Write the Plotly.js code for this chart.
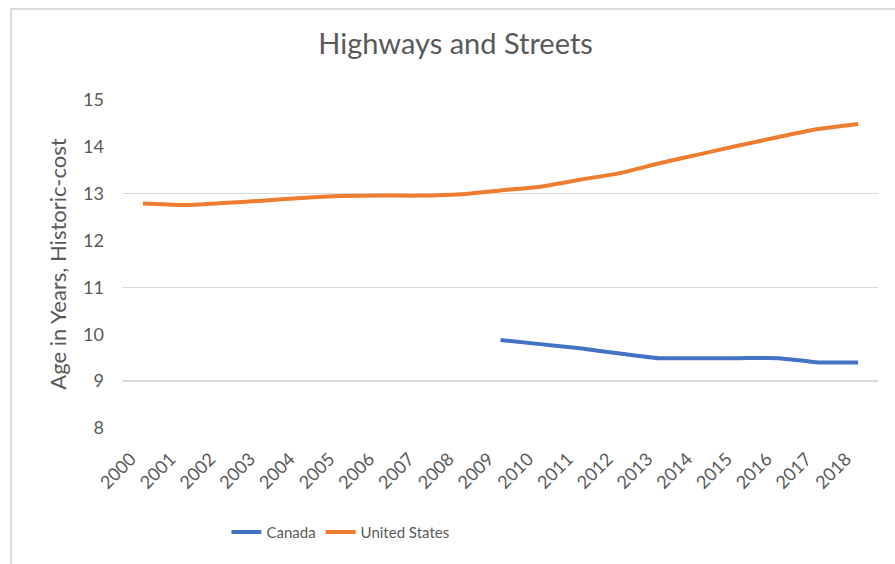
<!DOCTYPE html>
<html>
<head>
<meta charset="utf-8">
<script src="https://cdn.plot.ly/plotly-3.0.1.min.js"></script>
<style>
  html, body { margin: 0; padding: 0; background: #ffffff; overflow: hidden; }
  #chart { width: 895px; height: 564px; position: absolute; left: 0; top: 0; }
  #frame { position: absolute; left: 10px; top: 8px; width: 1000px; height: 700px;
           border-left: 2px solid #d9d9d9; border-top: 2px solid #d9d9d9; pointer-events: none; }
</style>
</head>
<body>
<div id="chart"></div>
<div id="frame"></div>
<script>
const years = ["2000","2001","2002","2003","2004","2005","2006","2007","2008","2009",
               "2010","2011","2012","2013","2014","2015","2016","2017","2018"];
const canadaValues = [null,null,null,null,null,null,null,null,null,
                      9.88,9.79,9.70,9.59,9.49,9.49,9.49,9.49,9.40,9.40];
const usValues = [12.79,12.76,12.80,12.85,12.91,12.95,12.96,12.96,12.99,13.07,
                  13.15,13.30,13.44,13.65,13.84,14.03,14.21,14.38,14.49];
const yTickValues = [8,9,10,11,12,13,14,15];
const gridValues = [9,11,13,15];

const textColor = "#595959";
const fontFamily = "Lato, 'Open Sans', sans-serif";

const traces = [
  { x: years, y: canadaValues, name: "Canada", type: "scatter", mode: "lines",
    line: { color: "#4472C4", width: 4, shape: "spline", smoothing: 0.6 }, connectgaps: false },
  { x: years, y: usValues, name: "United States", type: "scatter", mode: "lines",
    line: { color: "#ED7D31", width: 4, shape: "spline", smoothing: 0.6 } },
  { x: years, y: usValues, yaxis: "y2", type: "scatter", mode: "none",
    showlegend: false, hoverinfo: "skip" }
];

const layout = {
  width: 895, height: 564,
  paper_bgcolor: "rgba(0,0,0,0)", plot_bgcolor: "rgba(0,0,0,0)",
  margin: { l: 123, r: 17, t: 100, b: 136 },
  font: { family: fontFamily, color: textColor, size: 18 },
  title: { text: "Highways and Streets", font: { size: 29, color: textColor, family: fontFamily },
           x: 0.509, xanchor: "center", y: 0.922, yanchor: "middle" },
  xaxis: {
    type: "category", range: [-0.5, 18.5], tickangle: -45,
    showgrid: false, zeroline: false, showline: false, ticks: "",
    ticklabelstandoff: 16, ticklabelshift: -12,
    tickfont: { size: 18, color: textColor }, fixedrange: true
  },
  yaxis: {
    range: [8, 15], tickvals: yTickValues, showgrid: false, zeroline: false,
    showline: false, ticks: "", ticklabelstandoff: 18,
    tickfont: { size: 18, color: textColor },
    title: { text: "Age in Years, Historic-cost", font: { size: 22, color: textColor }, standoff: 10 }
  },
  yaxis2: {
    overlaying: "y", range: [8, 15], tickvals: gridValues, showticklabels: false,
    showgrid: true, gridcolor: "#d9d9d9", gridwidth: 1.3, zeroline: false, showline: false, ticks: ""
  },
  legend: {
    orientation: "h", x: 0.137, xanchor: "left", y: -0.318, yanchor: "middle",
    font: { size: 15, color: textColor }, itemwidth: 30, tracegroupgap: 0, bgcolor: "rgba(0,0,0,0)"
  },
  showlegend: true
};

Plotly.newPlot("chart", traces, layout, { displayModeBar: false, staticPlot: true });
</script>
</body>
</html>
